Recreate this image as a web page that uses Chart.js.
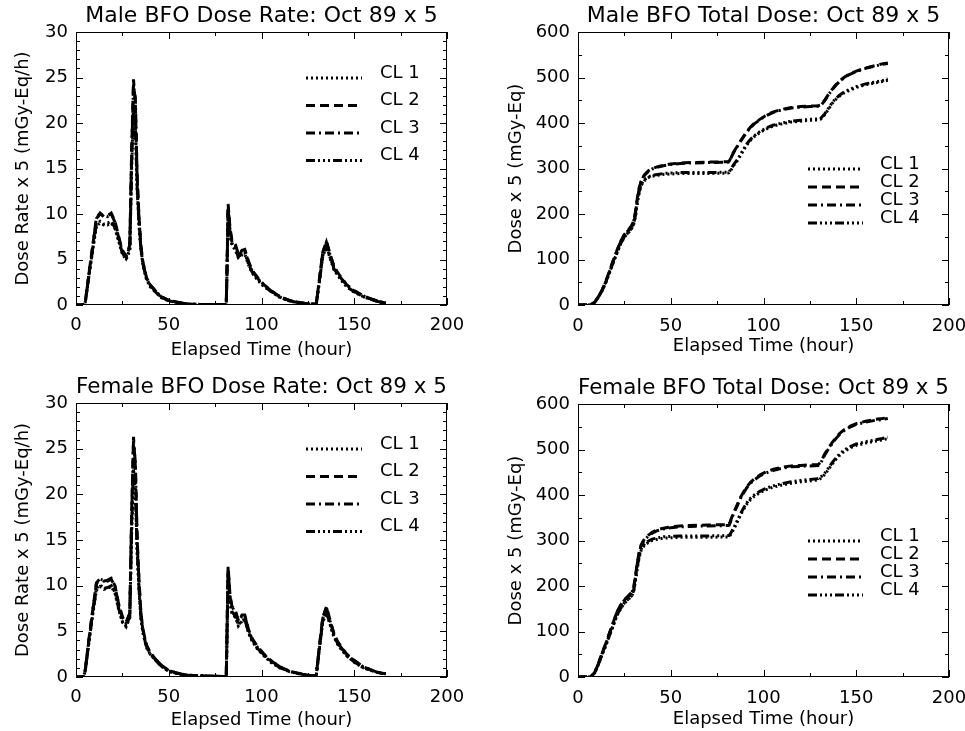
<!DOCTYPE html>
<html><head><meta charset="utf-8">
<script src="https://cdn.jsdelivr.net/npm/chart.js@4.4.1/dist/chart.umd.min.js"></script>
<style>
html,body{margin:0;padding:0;background:#fff;overflow:hidden}
#wrap{position:relative;width:965px;height:731px;background:#fff}
canvas{position:absolute}
</style></head><body>
<div id="wrap">
<canvas id="c1" width="482" height="365" style="left:0;top:0"></canvas>
<canvas id="c2" width="483" height="365" style="left:482px;top:0"></canvas>
<canvas id="c3" width="482" height="366" style="left:0;top:365px"></canvas>
<canvas id="c4" width="483" height="366" style="left:482px;top:365px"></canvas>
</div>
<script>
// ---- data (elapsed hours) ----
const hours = [0,4,5,7,9, 11,13,15,17,19, 21,23,25,27,29, 30,31,32,33,34, 35,36,38,40,43, 46,50,55,60,70, 81,81.5,82,83,84, 86,87.5,89.5,91,93, 95,98,101,105,110, 115,120,125,129.5,131, 133,135,137,139,141, 143,146,150,155,160, 164,167];
const seriesLabels = ['CL 1','CL 2','CL 3','CL 4'];
const xTicks = [0,50,100,150,200];

const maleRateCL1 = [0,0,0.3,3.2,6.0, 8.7,9.0,8.8,8.8,9.0, 8.4,7.0,5.6,5.0,6.0, 15,21,19.5,12.5,8.6, 6.0,4.5,2.8,2.0,1.4, 0.8,0.45,0.25,0.1,0.05, 0.05,4.5,10.2,7.8,6.6, 6.0,5.2,5.5,5.6,4.4, 3.5,2.7,2.1,1.5,0.8, 0.45,0.25,0.1,0.1,2.2, 5.3,6.4,5.1,3.9,3.3, 2.7,2.0,1.4,0.9,0.55, 0.3,0.2];
const maleRateCL2 = [0,0,0.3,3.5,6.5, 9.6,10.1,9.7,9.8,10.1, 9.2,7.5,6.0,5.4,6.6, 17,24.8,22,14,9.5, 6.5,4.8,3.0,2.2,1.5, 0.9,0.5,0.3,0.1,0.05, 0.05,5,11.1,8.5,7.2, 6.6,5.6,6.0,6.1,4.8, 3.8,3.0,2.3,1.6,0.9, 0.5,0.3,0.1,0.1,2.5, 5.8,7.0,5.6,4.3,3.6, 3.0,2.2,1.6,1.0,0.6, 0.35,0.2];
const maleRateCL3 = [0,0,0.3,3.4,6.4, 9.5,10.0,9.8,9.7,10.0, 9.1,7.4,5.9,5.3,6.4, 16.5,24.2,22.8,13.6,9.3, 6.4,4.7,2.9,2.2,1.5, 0.9,0.5,0.3,0.1,0.05, 0.05,4.8,10.8,8.3,7.0, 6.5,5.5,5.9,6.0,4.7, 3.7,2.9,2.2,1.6,0.9, 0.5,0.3,0.1,0.1,2.4, 5.7,6.9,5.5,4.2,3.5, 2.9,2.2,1.5,1.0,0.6, 0.35,0.2];
const maleRateCL4 = [0,0,0.3,3.3,6.1, 8.9,9.2,8.9,9.0,9.2, 8.5,7.1,5.7,5.1,6.1, 15.5,21.8,19.8,12.8,8.8, 6.1,4.6,2.9,2.1,1.4, 0.85,0.45,0.25,0.1,0.05, 0.05,4.6,10.5,7.9,6.8, 6.1,5.3,5.6,5.7,4.5, 3.6,2.8,2.1,1.5,0.85, 0.45,0.25,0.1,0.1,2.3, 5.4,6.5,5.2,4.0,3.4, 2.8,2.0,1.45,0.9,0.55, 0.32,0.2];

const maleDoseCL1 = [0,0,0,1,6, 17,31,49,71,93, 114,134,149,158,168, 177,196,225,247,262, 269,274,280,283,285, 287,288,289,289,289, 290,291,294,300,307, 318,328,342,352,362, 370,379,386,393,398, 402,404,406,407,409, 418,430,443,452,459, 465,471,478,484,488, 491,494];
const maleDoseCL2 = [0,0,0,1,6, 18,33,52,75,98, 120,140,155,164,175, 185,205,235,258,272, 281,287,295,300,304, 307,310,312,313,314, 315,316,320,329,337, 350,360,372,381,391, 399,408,416,424,430, 434,436,437,438,440, 450,463,474,484,492, 499,507,514,521,526, 530,532];
const maleDoseCL3 = [0,0,0,1,6, 18,33,51,74,97, 119,139,154,163,174, 184,203,233,256,271, 280,286,294,299,303, 306,309,311,312,313, 314,315,319,328,336, 349,359,371,380,390, 398,407,415,423,429, 433,435,436,437,439, 449,462,473,483,491, 498,506,513,520,525, 529,531];
const maleDoseCL4 = [0,0,0,1,6, 17,32,50,72,94, 115,135,150,159,169, 178,198,228,250,264, 271,276,282,285,287, 289,290,291,291,291, 292,293,296,302,309, 320,330,344,354,364, 372,381,388,395,400, 404,406,408,409,411, 420,432,445,454,461, 467,473,480,486,490, 493,497];

const femaleRateCL1 = [0,0,0.7,3.8,6.8, 9.5,9.9,9.6,9.7,9.9, 9.2,7.4,6.0,5.5,6.5, 16,22,20,13.5,9.4, 6.4,4.9,3.2,2.5,1.8, 1.2,0.6,0.35,0.2,0.1, 0.05,5.5,11.2,8.2,7.0, 6.5,5.6,6.1,6.2,4.8, 3.9,3.0,2.4,1.6,1.0, 0.6,0.35,0.2,0.1,2.7, 6.0,7.0,5.7,4.4,3.6, 3.0,2.3,1.6,1.0,0.65, 0.42,0.32];
const femaleRateCL2 = [0,0,0.8,4.2,7.3, 10.3,10.8,10.5,10.6,10.8, 10.0,8.0,6.6,6.0,7.0, 18,26.3,23,15,10.5, 7.0,5.3,3.5,2.7,1.9, 1.3,0.7,0.4,0.2,0.1, 0.05,6,12.1,9.0,7.8, 7.2,6.2,6.8,6.8,5.2, 4.2,3.3,2.6,1.8,1.1, 0.65,0.4,0.2,0.1,3.0, 6.5,7.7,6.2,4.8,3.9, 3.3,2.5,1.8,1.1,0.7, 0.45,0.35];
const femaleRateCL3 = [0,0,0.8,4.1,7.2, 10.2,10.7,10.6,10.5,10.7, 9.9,7.9,6.5,5.9,6.9, 17.5,25.8,23.5,14.6,10.3, 6.9,5.2,3.4,2.6,1.9, 1.3,0.7,0.4,0.2,0.1, 0.05,5.8,11.8,8.8,7.7, 7.1,6.1,6.7,6.7,5.1, 4.1,3.2,2.5,1.8,1.1, 0.65,0.4,0.2,0.1,2.9, 6.4,7.6,6.1,4.7,3.8, 3.2,2.4,1.8,1.1,0.7, 0.45,0.35];
const femaleRateCL4 = [0,0,0.7,3.9,6.9, 9.7,10.1,9.7,9.8,10.0, 9.3,7.5,6.1,5.6,6.6, 16.5,22.8,20.4,13.8,9.6, 6.5,5.0,3.3,2.5,1.8, 1.2,0.6,0.35,0.2,0.1, 0.05,5.6,11.4,8.4,7.2, 6.6,5.7,6.2,6.3,4.9, 4.0,3.1,2.4,1.7,1.0, 0.6,0.35,0.2,0.1,2.8, 6.1,7.1,5.8,4.5,3.7, 3.1,2.3,1.65,1.0,0.66, 0.43,0.33];

const femaleDoseCL1 = [0,0,0,1,9, 27,49,69,91,113, 135,150,162,170,178, 188,212,240,263,278, 285,290,296,300,303, 305,306,307,307,307, 308,308,311,318,325, 342,355,370,380,390, 397,405,411,417,422, 426,429,431,433,437, 445,456,468,478,487, 494,502,509,514,518, 521,524];
const femaleDoseCL2 = [0,0,0,1,10, 30,53,74,97,120, 143,158,170,178,186, 196,222,252,275,290, 298,304,312,318,324, 327,330,332,333,334, 335,336,341,352,362, 380,394,408,418,428, 435,444,450,456,461, 464,465,466,467,473, 490,503,515,526,535, 542,550,557,562,566, 568,570];
const femaleDoseCL3 = [0,0,0,1,10, 29,52,73,96,119, 142,157,169,177,185, 195,220,250,273,288, 296,302,310,316,322, 325,328,330,331,332, 333,334,339,350,360, 378,392,406,416,426, 433,442,448,454,459, 462,463,464,465,471, 488,501,513,524,533, 540,548,555,560,564, 566,568];
const femaleDoseCL4 = [0,0,0,1,9, 28,50,70,92,114, 136,151,163,171,179, 190,214,243,266,281, 288,293,299,303,306, 308,309,310,310,310, 311,311,314,321,328, 345,358,373,383,393, 400,408,414,420,425, 429,432,434,436,440, 448,459,471,481,490, 497,505,512,517,521, 524,527];

// ---- rendering ----
Chart.defaults.font.family = "'DejaVu Sans', sans-serif";
Chart.defaults.font.size = 18;
Chart.defaults.color = '#000';

const dashes = [[2,3],[9,5],[9,4,2,4],[9,3,2,3,2,3,2,3]];

const framePlugin = {
  id: 'frame',
  afterDatasetsDraw(chart, args, o) {
    const {ctx, chartArea: a} = chart;
    const xs = chart.scales.x, ys = chart.scales.y;
    ctx.save();
    ctx.setLineDash([]);
    ctx.strokeStyle = '#000';
    ctx.lineWidth = 1;
    ctx.strokeRect(a.left + 0.5, a.top + 0.5, a.right - a.left - 1, a.bottom - a.top - 1);
    ctx.beginPath();
    const isMajor = (v, m) => Math.abs(v / m - Math.round(v / m)) < 1e-6;
    for (let v = xs.min; v <= xs.max + 1e-9; v += o.xMinor) {
      const len = isMajor(v, o.xMajor) ? 7 : 4;
      const px = Math.round(xs.getPixelForValue(v)) + 0.5;
      ctx.moveTo(px, a.bottom); ctx.lineTo(px, a.bottom - len);
      ctx.moveTo(px, a.top); ctx.lineTo(px, a.top + len);
    }
    for (let v = ys.min; v <= ys.max + 1e-9; v += o.yMinor) {
      const len = isMajor(v, o.yMajor) ? 7 : 4;
      const py = Math.round(ys.getPixelForValue(v)) + 0.5;
      ctx.moveTo(a.left, py); ctx.lineTo(a.left + len, py);
      ctx.moveTo(a.right, py); ctx.lineTo(a.right - len, py);
    }
    ctx.stroke();
    ctx.restore();
  }
};

const legendPlugin = {
  id: 'cllegend',
  afterDraw(chart, args, o) {
    const {ctx, chartArea: a} = chart;
    ctx.save();
    chart.data.datasets.forEach((ds, i) => {
      const yText = a.top + o.top + i * o.step;
      const yLine = yText + 5;
      ctx.strokeStyle = '#000';
      ctx.lineWidth = 3;
      ctx.setLineDash(ds.borderDash);
      ctx.beginPath();
      ctx.moveTo(a.left + o.x0, yLine);
      ctx.lineTo(a.left + o.x1, yLine);
      ctx.stroke();
      ctx.setLineDash([]);
      ctx.fillStyle = '#000';
      ctx.font = "18px 'DejaVu Sans'";
      ctx.textBaseline = 'middle';
      ctx.textAlign = 'left';
      ctx.fillText(ds.label, a.left + o.tx, yText);
    });
    ctx.restore();
  }
};

function build(id, cfg) {
  const datasets = cfg.series.map((arr, i) => ({
    label: seriesLabels[i],
    data: hours.map((h, k) => ({x: h, y: arr[k]})),
    borderColor: '#000',
    borderWidth: 3,
    borderDash: dashes[i],
    pointRadius: 0,
    tension: 0,
    fill: false
  }));
  return new Chart(document.getElementById(id), {
    type: 'line',
    data: {datasets},
    options: {
      responsive: false,
      animation: false,
      devicePixelRatio: 1,
      layout: {padding: {left: 0, right: cfg.padRight, top: 0, bottom: 0}},
      plugins: {
        legend: {display: false},
        tooltip: {enabled: false},
        title: {display: true, text: cfg.title, fullSize: false,
                font: {size: 22, lineHeight: 1, weight: 'normal'},
                padding: {top: cfg.titleTop, bottom: cfg.titleBottom}},
        frame: {xMajor: 50, xMinor: 25, yMajor: cfg.yStep, yMinor: cfg.yMinor},
        cllegend: cfg.legend
      },
      scales: {
        x: {
          type: 'linear', min: 0, max: 200,
          afterBuildTicks(s) { s.ticks = xTicks.map(v => ({value: v})); },
          ticks: {padding: cfg.xTickPad, maxRotation: 0, autoSkip: false},
          grid: {display: false, drawTicks: false},
          border: {display: false},
          title: {display: true, text: 'Elapsed Time (hour)', padding: {top: 0, bottom: cfg.xTitlePad}},
          afterFit(s) { s.height = cfg.xHeight; s.paddingLeft = 0; s.paddingRight = 0; }
        },
        y: {
          type: 'linear', min: 0, max: cfg.yMax,
          ticks: {stepSize: cfg.yStep, padding: 8},
          grid: {display: false, drawTicks: false},
          border: {display: false},
          title: {display: true, text: cfg.yTitle, padding: {top: cfg.yTitlePad, bottom: 0}},
          afterFit(s) { s.width = cfg.yWidth; s.paddingTop = 0; s.paddingBottom = 0; }
        }
      }
    },
    plugins: [framePlugin, legendPlugin]
  });
}

const leftLegend = {x0: 230, x1: 286, tx: 304, top: 41, step: 27.5};
const rightLegend = {x0: 230, x1: 285, tx: 302, top: 132, step: 18};

build('c1', {
  title: 'Male BFO Dose Rate: Oct 89 x 5', yTitle: 'Dose Rate x 5 (mGy-Eq/h)',
  series: [maleRateCL1, maleRateCL2, maleRateCL3, maleRateCL4],
  yMax: 30, yStep: 5, yMinor: 1, yWidth: 76, padRight: 35,
  titleTop: 5, titleBottom: 5, xHeight: 60, xTickPad: 10, xTitlePad: 4, yTitlePad: 13,
  legend: leftLegend
});
build('c2', {
  title: 'Male BFO Total Dose: Oct 89 x 5', yTitle: 'Dose x 5 (mGy-Eq)',
  series: [maleDoseCL1, maleDoseCL2, maleDoseCL3, maleDoseCL4],
  yMax: 600, yStep: 100, yMinor: 50, yWidth: 96, padRight: 16,
  titleTop: 5, titleBottom: 5, xHeight: 60, xTickPad: 11, xTitlePad: 8, yTitlePad: 24,
  legend: rightLegend
});
build('c3', {
  title: 'Female BFO Dose Rate: Oct 89 x 5', yTitle: 'Dose Rate x 5 (mGy-Eq/h)',
  series: [femaleRateCL1, femaleRateCL2, femaleRateCL3, femaleRateCL4],
  yMax: 30, yStep: 5, yMinor: 1, yWidth: 76, padRight: 35,
  titleTop: 11, titleBottom: 5, xHeight: 54, xTickPad: 10, xTitlePad: 0, yTitlePad: 13,
  legend: leftLegend
});
build('c4', {
  title: 'Female BFO Total Dose: Oct 89 x 5', yTitle: 'Dose x 5 (mGy-Eq)',
  series: [femaleDoseCL1, femaleDoseCL2, femaleDoseCL3, femaleDoseCL4],
  yMax: 600, yStep: 100, yMinor: 50, yWidth: 96, padRight: 16,
  titleTop: 12, titleBottom: 5, xHeight: 54, xTickPad: 11, xTitlePad: 1, yTitlePad: 24,
  legend: rightLegend
});
</script>
</body></html>
